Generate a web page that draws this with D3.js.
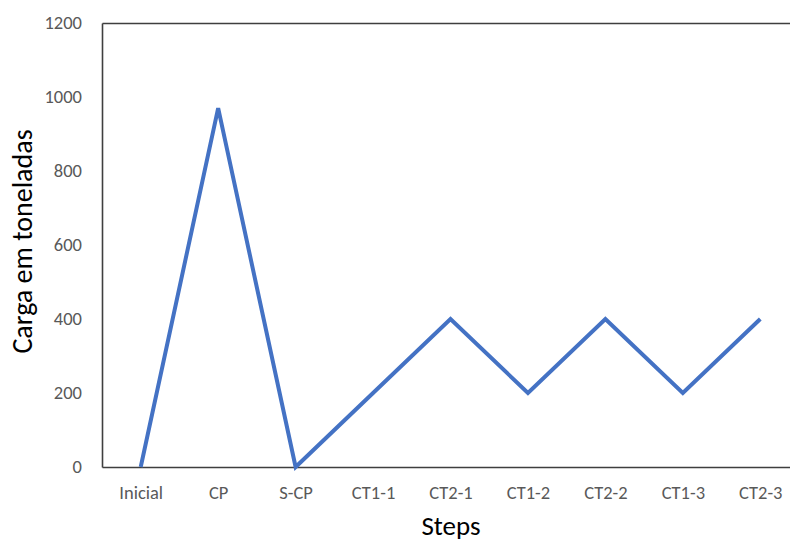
<!DOCTYPE html>
<html>
<head>
<meta charset="utf-8">
<script src="https://cdn.jsdelivr.net/npm/d3@7"></script>
<style>
  html, body { margin: 0; padding: 0; background: #fff; }
  svg { display: block; font-family: Carlito, Calibri, Lato, sans-serif; }
</style>
</head>
<body>
<svg id="chart" width="790" height="542"></svg>
<script>
// Load (tonnes) applied at each step
const steps = ["Inicial", "CP", "S-CP", "CT1-1", "CT2-1", "CT1-2", "CT2-2", "CT1-3", "CT2-3"];
const carga = [0, 970, 0, 200, 400, 200, 400, 200, 400];
const yTicks = [0, 200, 400, 600, 800, 1000, 1200];

const svg = d3.select("#chart");
const plotLeft = 102, plotRight = 799, plotTop = 23, plotBottom = 467;

const x = d3.scalePoint().domain(steps).range([plotLeft, plotRight]).padding(0.5);
const y = d3.scaleLinear().domain([0, 1200]).range([plotBottom, plotTop]);

const frameColor = "#3f3f3f";

function styleAxis(g) {
  g.attr("font-family", null).attr("font-size", null);
  g.select(".domain").attr("stroke", frameColor).attr("stroke-width", 1.6);
  g.selectAll("text").attr("fill", "#595959").style("font-size", "18.5px");
}

// Y axis: labels only, frame drawn by domain line
svg.append("g")
  .attr("transform", `translate(${plotLeft},0)`)
  .call(d3.axisLeft(y).tickValues(yTicks).tickSize(0).tickPadding(20).tickFormat(d3.format("d")))
  .call(styleAxis);

// X axis at the bottom of the plot
svg.append("g")
  .attr("transform", `translate(0,${plotBottom})`)
  .call(d3.axisBottom(x).tickSize(0).tickPadding(19))
  .call(styleAxis);

// Top border of the plot frame
svg.append("g")
  .attr("transform", `translate(0,${plotTop})`)
  .call(d3.axisTop(x).tickSize(0).tickFormat(""))
  .call(styleAxis);

// Series line
const line = d3.line().x((d, i) => x(steps[i])).y(d => y(d));
svg.append("path")
  .datum(carga)
  .attr("fill", "none")
  .attr("stroke", "#4472c4")
  .attr("stroke-width", 4)
  .attr("stroke-linejoin", "miter")
  .attr("d", line);

// Axis titles
svg.append("text")
  .attr("x", 451).attr("y", 535)
  .attr("text-anchor", "middle")
  .attr("fill", "#000")
  .style("font-size", "27px")
  .text("Steps");

svg.append("text")
  .attr("transform", `translate(32,${(128 + 355) / 2}) rotate(-90)`)
  .attr("text-anchor", "middle")
  .attr("fill", "#000")
  .style("font-size", "28px")
  .text("Carga em toneladas");
</script>
</body>
</html>
